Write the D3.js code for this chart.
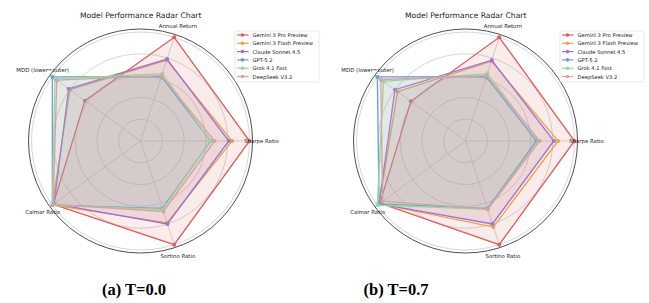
<!DOCTYPE html>
<html><head><meta charset="utf-8">
<script src="https://cdn.jsdelivr.net/npm/d3@7"></script>
<style>body{margin:0;background:#fff}svg{display:block}</style>
</head><body>
<svg id="c" width="649" height="303"></svg>
<script>
const categories = ["Annual Return", "Sharpe Ratio", "Sortino Ratio", "Calmar Ratio", "MDD (lower=outer)"];
const models = ["Gemini 3 Pro Preview", "Gemini 3 Flash Preview", "Claude Sonnet 4.5", "GPT-5.2", "Grok 4.1 Fast", "DeepSeek V3.2"];
const colors = ["#e05c5c", "#e8a44a", "#9b72d9", "#6b9fd8", "#96da96", "#d8a2a2"];
const gridTicks = [0.2, 0.4, 0.6, 0.8, 1.0];
const panelTitles = ["(a) T=0.0", "(b) T=0.7"];
// values per model, in category order
const valuesT00 = [
  [1.00, 1.00, 1.00, 0.99, 0.63],
  [0.78, 0.84, 0.79, 1.00, 0.80],
  [0.79, 0.81, 0.80, 0.98, 0.815],
  [0.62, 0.645, 0.65, 1.00, 1.00],
  [0.65, 0.64, 0.66, 1.00, 0.97],
  [0.63, 0.68, 0.68, 0.99, 0.95]
];
const valuesT07 = [
  [1.00, 1.00, 1.00, 0.97, 0.62],
  [0.77, 0.85, 0.83, 0.98, 0.77],
  [0.78, 0.81, 0.80, 0.98, 0.80],
  [0.62, 0.65, 0.65, 0.98, 1.00],
  [0.65, 0.67, 0.66, 1.00, 0.93],
  [0.63, 0.68, 0.66, 0.94, 0.96]
];

const svg = d3.select("#c");
const r = d3.scaleLinear().domain([0, 1]).range([0, 109]);
const spineR = 112;
const ang = d3.scaleLinear().domain([0, categories.length]).range([72 * Math.PI / 180, 72 * Math.PI / 180 - 2 * Math.PI]);
const pt = (i, v) => [r(v) * Math.cos(ang(i)), -r(v) * Math.sin(ang(i))];

function panel(ox, data) {
  const g = svg.append("g").attr("transform", `translate(${ox},0)`);
  const c = g.append("g").attr("transform", "translate(140.5,141)");
  c.selectAll("circle.grid").data(gridTicks).join("circle").attr("class", "grid")
    .attr("r", d => r(d)).attr("fill", "none").attr("stroke", "#c4c4c4").attr("stroke-width", 0.7);
  c.selectAll("line.rad").data(categories).join("line").attr("class", "rad")
    .attr("x1", 0).attr("y1", 0)
    .attr("x2", (d, i) => spineR * Math.cos(ang(i))).attr("y2", (d, i) => -spineR * Math.sin(ang(i)))
    .attr("stroke", "#c4c4c4").attr("stroke-width", 0.7);
  const line = d3.line().curve(d3.curveLinearClosed);
  data.forEach((vals, k) => {
    const pts = vals.map((v, i) => pt(i, v));
    c.append("path").attr("d", line(pts)).attr("fill", colors[k]).attr("fill-opacity", 0.115).attr("stroke", "none");
    c.append("path").attr("d", line(pts)).attr("fill", "none").attr("stroke", colors[k]).attr("stroke-width", 1.3);
    c.selectAll(null).data(pts).join("circle").attr("cx", d => d[0]).attr("cy", d => d[1]).attr("r", 2).attr("fill", colors[k]);
  });
  c.append("circle").attr("r", spineR).attr("fill", "none").attr("stroke", "#222").attr("stroke-width", 0.8);
  c.selectAll("text.lab").data(categories).join("text").attr("class", "lab")
    .attr("x", (d, i) => 121 * Math.cos(ang(i))).attr("y", (d, i) => -121 * Math.sin(ang(i)))
    .attr("text-anchor", "middle").attr("dominant-baseline", "central")
    .attr("font-family", "DejaVu Sans").attr("font-size", 5.4).attr("fill", "#222").text(d => d);
  g.append("text").attr("x", 140.7).attr("y", 17.5).attr("text-anchor", "middle")
    .attr("font-family", "DejaVu Sans").attr("font-size", 7.6).attr("fill", "#222").text("Model Performance Radar Chart");
  const lg = g.append("g").attr("transform", "translate(235,31)");
  lg.append("rect").attr("width", 84).attr("height", 51).attr("rx", 1.5).attr("fill", "#fff").attr("fill-opacity", 0.85)
    .attr("stroke", "#d8d8d8").attr("stroke-width", 0.6);
  models.forEach((m, k) => {
    const y = 4 + k * 8.3;
    lg.append("line").attr("x1", 2).attr("x2", 13.5).attr("y1", y).attr("y2", y).attr("stroke", colors[k]).attr("stroke-width", 1.2);
    lg.append("circle").attr("cx", 7.5).attr("cy", y).attr("r", 1.8).attr("fill", colors[k]);
    lg.append("text").attr("x", 17.5).attr("y", y).attr("dominant-baseline", "central")
      .attr("font-family", "DejaVu Sans").attr("font-size", 5.2).attr("fill", "#222").text(m);
  });
}
panel(0, valuesT00);
panel(325, valuesT07);
svg.selectAll("text.cap").data(panelTitles).join("text").attr("class", "cap")
  .attr("x", (d, i) => i === 0 ? 134 : 396).attr("y", 295).attr("text-anchor", "middle")
  .attr("font-family", "Liberation Serif").attr("font-weight", "bold").attr("font-size", 16.5).attr("fill", "#000").text(d => d);
</script>
</body></html>
